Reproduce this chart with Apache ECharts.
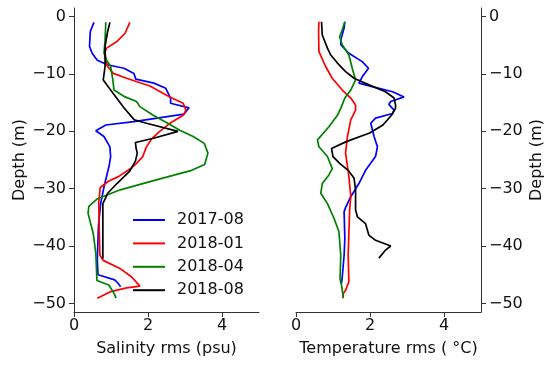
<!DOCTYPE html>
<html>
<head>
<meta charset="utf-8">
<script src="https://cdn.jsdelivr.net/npm/echarts@6/dist/echarts.min.js"></script>
<style>html,body{margin:0;padding:0;background:#fff}#c{width:550px;height:371px}</style>
</head>
<body>
<div id="c"></div>
<script>
// ---- data: [rms value, depth (m)] ----
var seriesNames = ['2017-08', '2018-01', '2018-04', '2018-08'];
var seriesColors = ['#0000ff', '#ff0000', '#008000', '#000000'];
var xTicks = [0, 2, 4];
var depthTicks = [0, -10, -20, -30, -40, -50];

var sal_2017_08 = [[0.54,-1.0],[0.44,-2.6],[0.42,-5.2],[0.49,-6.4],[0.63,-7.6],[0.90,-8.4],[1.35,-9.0],[1.62,-9.9],[1.67,-10.9],[2.16,-11.6],[2.48,-12.5],[2.61,-14.2],[2.61,-15.1],[3.11,-15.9],[2.97,-17.0],[1.62,-18.3],[0.86,-18.9],[0.59,-19.9],[0.81,-20.9],[0.97,-22.7],[0.99,-24.4],[0.95,-26.0],[0.90,-27.3],[0.81,-29.7],[0.72,-32.6],[0.66,-36.6],[0.63,-42.5],[0.65,-45.0],[1.10,-45.9],[1.18,-46.4],[1.26,-47.1]];
var sal_2018_01 = [[1.51,-1.0],[1.38,-2.9],[1.15,-4.4],[0.88,-5.5],[0.84,-6.1],[0.86,-7.5],[0.90,-8.6],[1.06,-9.9],[1.42,-10.75],[2.05,-12.1],[2.59,-14.0],[2.95,-15.1],[3.03,-16.3],[2.95,-17.2],[2.59,-18.6],[2.30,-20.1],[2.10,-21.3],[1.95,-22.8],[1.86,-24.4],[1.69,-25.6],[1.55,-26.4],[1.20,-27.9],[0.93,-28.7],[0.71,-29.8],[0.67,-32.3],[0.68,-36.6],[0.70,-41.6],[0.79,-42.5],[1.24,-43.9],[1.56,-45.4],[1.78,-47.0],[1.42,-47.3],[0.97,-48.0],[0.63,-49.1]];
var sal_2018_04 = [[0.86,-1.0],[0.84,-4.1],[0.81,-6.4],[0.88,-7.6],[0.99,-8.7],[1.05,-11.05],[1.08,-12.8],[1.38,-14.0],[1.69,-14.8],[1.78,-15.7],[2.14,-17.2],[2.51,-18.5],[2.86,-19.8],[3.22,-20.9],[3.52,-22.1],[3.62,-23.8],[3.53,-25.8],[3.18,-26.8],[2.20,-28.5],[1.25,-30.2],[0.62,-31.8],[0.40,-33.1],[0.38,-34.3],[0.52,-37.8],[0.59,-41.3],[0.62,-46.0],[0.94,-46.8],[1.06,-48.0],[1.14,-49.1]];
var sal_2018_08 = [[0.97,-1.0],[0.90,-2.9],[0.84,-5.2],[0.84,-8.7],[0.79,-11.05],[1.06,-13.4],[1.35,-15.9],[1.63,-18.0],[1.96,-18.6],[2.81,-20.0],[2.15,-21.2],[1.66,-21.95],[1.68,-23.0],[1.71,-23.8],[1.66,-25.2],[1.50,-27.0],[1.16,-29.1],[0.91,-30.8],[0.78,-32.6],[0.78,-36.6],[0.78,-42.2]];

var tem_2017_08 = [[1.32,-0.9],[1.30,-2.0],[1.21,-4.1],[1.21,-4.9],[1.43,-6.4],[1.79,-7.85],[1.96,-9.0],[1.79,-10.5],[1.70,-11.6],[2.06,-12.2],[2.61,-13.1],[2.92,-14.0],[2.56,-14.8],[2.51,-15.3],[2.65,-16.3],[2.61,-16.9],[2.15,-17.7],[2.02,-18.6],[2.11,-20.9],[2.20,-22.7],[2.15,-24.4],[1.88,-26.8],[1.70,-29.1],[1.48,-31.4],[1.34,-33.3],[1.30,-34.0],[1.32,-38.7],[1.30,-41.6],[1.25,-45.4],[1.23,-46.5]];
var tem_2018_01 = [[0.62,-0.9],[0.61,-2.6],[0.62,-6.1],[0.80,-8.7],[0.98,-10.75],[1.25,-12.8],[1.48,-14.2],[1.61,-15.4],[1.61,-16.3],[1.48,-18.0],[1.39,-20.9],[1.34,-23.8],[1.43,-27.9],[1.48,-31.4],[1.45,-33.7],[1.43,-37.5],[1.41,-41.6],[1.43,-46.2],[1.34,-47.7],[1.28,-48.3],[1.27,-49.1]];
var tem_2018_04 = [[1.32,-0.9],[1.25,-2.3],[1.18,-3.5],[1.25,-4.9],[1.43,-6.7],[1.52,-9.0],[1.61,-11.05],[1.48,-12.8],[1.32,-14.2],[1.21,-16.0],[1.12,-17.2],[0.89,-19.2],[0.58,-21.5],[0.62,-22.7],[0.85,-24.4],[0.98,-26.5],[0.89,-27.6],[0.71,-29.1],[0.67,-30.8],[0.85,-32.6],[1.03,-35.2],[1.16,-37.5],[1.21,-41.6],[1.19,-45.7],[1.23,-46.8],[1.28,-49.0]];
var tem_2018_08 = [[0.69,-0.9],[0.71,-3.2],[0.85,-5.5],[0.94,-6.7],[1.12,-8.1],[1.34,-9.6],[1.57,-10.75],[1.97,-11.9],[2.42,-13.1],[2.65,-14.2],[2.69,-15.4],[2.69,-16.0],[2.58,-17.2],[2.35,-18.9],[1.99,-20.3],[1.36,-21.8],[0.96,-23.0],[1.00,-24.4],[1.18,-25.6],[1.41,-26.8],[1.57,-28.2],[1.61,-30.2],[1.61,-33.7],[1.66,-34.9],[1.88,-36.1],[1.97,-38.1],[2.15,-39.0],[2.56,-40.0],[2.42,-40.7],[2.24,-42.1]];

var salinityData = [sal_2017_08, sal_2018_01, sal_2018_04, sal_2018_08];
var temperatureData = [tem_2017_08, tem_2018_01, tem_2018_04, tem_2018_08];

// ---- chart ----
var FONT = 'DejaVu Sans';
var FS = 16;
var TXT = '#111';
var AX = '#333';
function minusFmt(v) { return v < 0 ? '\u2212' + Math.abs(v) : String(v); }

function xAxisFor(idx, name) {
  return {
    type: 'value', gridIndex: idx, min: 0, max: 5,
    name: name, nameLocation: 'middle', nameGap: 29,
    nameTextStyle: { fontFamily: FONT, fontSize: FS, color: TXT },
    axisLine: { show: true, onZero: false, lineStyle: { color: AX, width: 1 } },
    axisTick: { show: true, length: 5, customValues: xTicks, lineStyle: { color: AX } },
    axisLabel: { customValues: xTicks, margin: 6, fontFamily: FONT, fontSize: FS, color: TXT, formatter: minusFmt },
    splitLine: { show: false }
  };
}
function yAxisFor(idx, pos, gap) {
  return {
    type: 'value', gridIndex: idx, position: pos, min: -51.5, max: 1.5,
    name: 'Depth (m)', nameLocation: 'middle', nameGap: gap, nameRotate: 90,
    nameTextStyle: { fontFamily: FONT, fontSize: FS, color: TXT },
    axisLine: { show: true, onZero: false, lineStyle: { color: AX, width: 1 } },
    axisTick: { show: true, length: 5, customValues: depthTicks, lineStyle: { color: AX } },
    axisLabel: { customValues: depthTicks, margin: 8, fontFamily: FONT, fontSize: FS, color: TXT, formatter: minusFmt },
    splitLine: { show: false }
  };
}

var series = [];
[salinityData, temperatureData].forEach(function (group, g) {
  group.forEach(function (d, i) {
    series.push({
      type: 'line', name: seriesNames[i], xAxisIndex: g, yAxisIndex: g,
      data: d, showSymbol: false, symbol: 'none', smooth: false,
      lineStyle: { color: seriesColors[i], width: 1.7 },
      itemStyle: { color: seriesColors[i] },
      animation: false, z: 2
    });
  });
});

var chart = echarts.init(document.getElementById('c'), null, { renderer: 'canvas' });
chart.setOption({
  animation: false,
  backgroundColor: '#ffffff',
  grid: [
    { left: 74, right: 291, top: 8, bottom: 59 },
    { left: 296, right: 69, top: 8, bottom: 59 }
  ],
  xAxis: [xAxisFor(0, 'Salinity rms (psu)'), xAxisFor(1, 'Temperature rms ( \u00B0C)')],
  yAxis: [yAxisFor(0, 'left', 46), yAxisFor(1, 'right', 48)],
  legend: {
    data: seriesNames, orient: 'vertical', left: 133, top: 212, padding: 0,
    icon: 'rect', itemWidth: 32, itemHeight: 2, itemGap: 7.4,
    textStyle: { fontFamily: FONT, fontSize: FS, color: TXT, padding: [0, 0, 0, 7] }
  },
  series: series
});
</script>
</body>
</html>
